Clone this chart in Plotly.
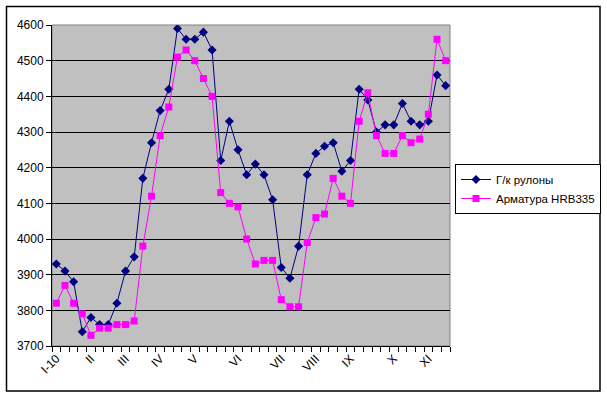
import plotly.graph_objects as go

W, H = 607, 399
L, R, T, B = 52, 450, 25, 346

series1_name = "Г/к рулоны"
series2_name = "Арматура HRB335"

series1 = [3930, 3910, 3880, 3740, 3780, 3760, 3760, 3820, 3910, 3950,
           4170, 4270, 4360, 4420, 4590, 4560, 4560, 4580, 4530, 4220,
           4330, 4250, 4180, 4210, 4180, 4110, 3920, 3890, 3980, 4180,
           4240, 4260, 4270, 4190, 4220, 4420, 4390, 4300, 4320, 4320,
           4380, 4330, 4320, 4330, 4460, 4430]
series2 = [3820, 3870, 3820, 3790, 3730, 3750, 3750, 3760, 3760, 3770,
           3980, 4120, 4290, 4370, 4510, 4530, 4500, 4450, 4400, 4130,
           4100, 4090, 4000, 3930, 3940, 3940, 3830, 3810, 3810, 3990,
           4060, 4070, 4170, 4120, 4100, 4330, 4410, 4290, 4240, 4240,
           4290, 4270, 4280, 4350, 4560, 4500]
tick_labels = ["I-10", "II", "III", "IV", "V", "VI", "VII", "VIII", "IX", "X", "XI"]
tick_index = [0, 4, 8, 12, 16, 21, 26, 30, 34, 39, 43]

x = list(range(len(series1)))
FONT = "Liberation Sans, Arial, sans-serif"

fig = go.Figure()
fig.add_trace(go.Scatter(x=x, y=series1, name=series1_name, mode="lines+markers",
                         line=dict(color="#000080", width=1),
                         marker=dict(symbol="diamond", size=7, color="#000080")))
fig.add_trace(go.Scatter(x=x, y=series2, name=series2_name, mode="lines+markers",
                         line=dict(color="#FF00FF", width=1),
                         marker=dict(symbol="square", size=7, color="#FF00FF")))

def px(xp):
    return (xp - L) / (R - L)

def py(yp):
    return (B - yp) / (B - T)

fig.update_layout(
    width=W, height=H,
    margin=dict(l=L, r=W - R, t=T, b=H - B, autoexpand=False),
    paper_bgcolor="white", plot_bgcolor="#C0C0C0",
    font=dict(family=FONT, size=12, color="black"),
    showlegend=True,
    legend=dict(x=px(455), y=py(164), xanchor="left", yanchor="top",
                bordercolor="black", borderwidth=1, bgcolor="white",
                font=dict(size=11.5, family=FONT), tracegroupgap=0,
                itemwidth=30),
    xaxis=dict(range=[-0.5, len(x) - 0.5], tickvals=tick_index, ticktext=tick_labels,
               tickangle=-45, ticks="", showgrid=False, zeroline=False,
               showline=True, linecolor="black", linewidth=1,
               tickfont=dict(size=12),
               minor=dict(tick0=-0.5, dtick=1, ticks="outside", ticklen=5,
                          tickcolor="black", showgrid=False)),
    yaxis=dict(range=[3700, 4600], dtick=100, tick0=3700, ticks="outside", ticklen=5,
               tickcolor="black", showgrid=True, gridcolor="black", gridwidth=1,
               zeroline=False, showline=True, linecolor="black", linewidth=1,
               tickfont=dict(size=12)),
    shapes=[
        dict(type="rect", xref="paper", yref="paper", x0=0, x1=1, y0=0, y1=1,
             line=dict(color="#808080", width=1), layer="below"),
        dict(type="rect", xref="paper", yref="paper",
             x0=px(6.5), x1=px(600), y0=py(391), y1=py(6.5),
             line=dict(color="black", width=1.5)),
    ],
)

fig.write_html("out.html", config={"displayModeBar": False},
               post_script="document.body.style.margin='0';document.body.style.overflow='hidden';")
